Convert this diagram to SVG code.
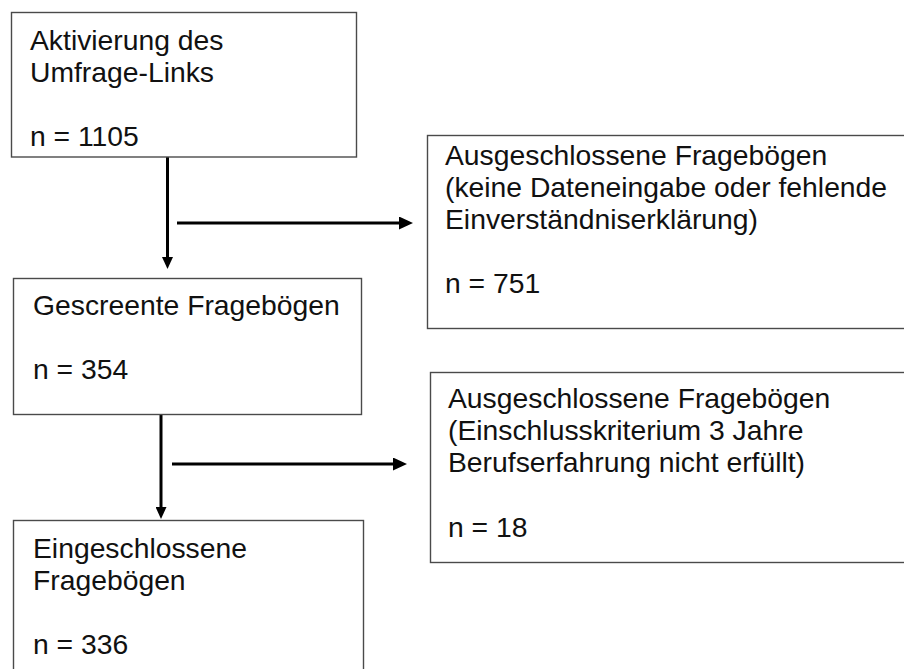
<svg xmlns="http://www.w3.org/2000/svg" width="904" height="669" viewBox="0 0 904 669">
<style>
.box{fill:#fff;stroke:#4a4a4a;stroke-width:1.4}
.t{font-family:"Liberation Sans",Arial,sans-serif;font-size:28.3px;fill:#111}
.c{stroke:#000;stroke-width:3;fill:none}
</style>
<defs>
<marker id="ah" markerUnits="userSpaceOnUse" markerWidth="14" markerHeight="13" refX="4" refY="6.5" orient="auto">
<path d="M0,0 L14,6.5 L0,13 Z" fill="#000"/>
</marker>
<marker id="av" markerUnits="userSpaceOnUse" markerWidth="12" markerHeight="11" refX="4" refY="5.5" orient="auto">
<path d="M0,0 L12,5.5 L0,11 Z" fill="#000"/>
</marker>
</defs>
<rect width="904" height="669" fill="#fff"/>
<g id="connectors">
<line class="c" x1="167.5" y1="157" x2="167.5" y2="261" marker-end="url(#av)"/>
<line class="c" x1="177" y1="223" x2="403" y2="223" marker-end="url(#ah)"/>
<line class="c" x1="161" y1="414" x2="161" y2="511" marker-end="url(#av)"/>
<line class="c" x1="172" y1="464" x2="397" y2="464" marker-end="url(#ah)"/>
</g>
<g id="n1">
<rect class="box" x="11.5" y="12.5" width="345" height="144.5"/>
<text class="t" x="30" y="50">Aktivierung des</text>
<text class="t" x="30" y="82">Umfrage-Links</text>
<text class="t" x="30" y="146">n = 1105</text>
</g>
<g id="n2">
<rect class="box" x="427.5" y="135.5" width="500" height="193"/>
<text class="t" x="445" y="165">Ausgeschlossene Fragebögen</text>
<text class="t" x="445" y="197">(keine Dateneingabe oder fehlende</text>
<text class="t" x="445" y="229">Einverständniserklärung)</text>
<text class="t" x="445" y="293">n = 751</text>
</g>
<g id="n3">
<rect class="box" x="13.5" y="278.5" width="348" height="136"/>
<text class="t" x="33" y="315">Gescreente Fragebögen</text>
<text class="t" x="33" y="379">n = 354</text>
</g>
<g id="n4">
<rect class="box" x="430.5" y="372.5" width="500" height="190"/>
<text class="t" x="448" y="408">Ausgeschlossene Fragebögen</text>
<text class="t" x="448" y="440">(Einschlusskriterium 3 Jahre</text>
<text class="t" x="448" y="472">Berufserfahrung nicht erfüllt)</text>
<text class="t" x="448" y="537">n = 18</text>
</g>
<g id="n5">
<rect class="box" x="13.5" y="520.5" width="350" height="200"/>
<text class="t" x="33" y="558">Eingeschlossene</text>
<text class="t" x="33" y="590">Fragebögen</text>
<text class="t" x="33" y="654">n = 336</text>
</g>
</svg>
